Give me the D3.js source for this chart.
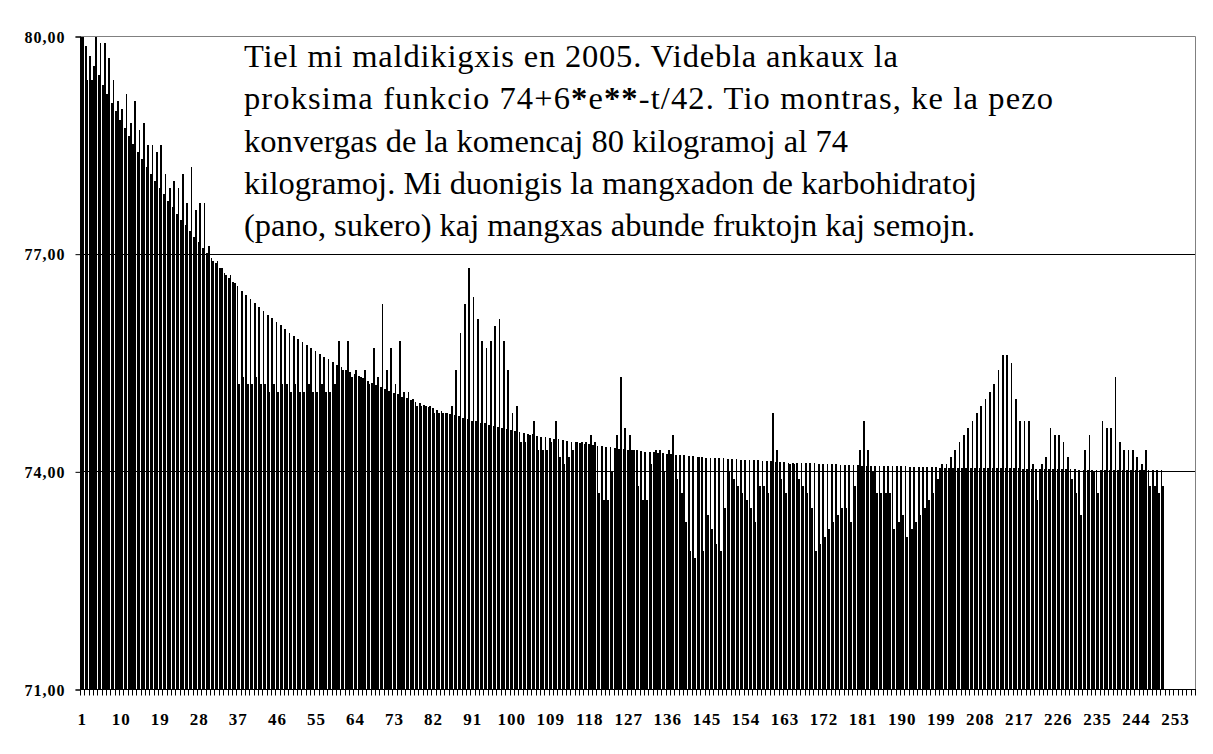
<!DOCTYPE html>
<html>
<head>
	<title>Pezo 2005</title>
	<meta charset="utf-8">
	<script type="text/javascript" src="https://cdn.jsdelivr.net/npm/d3@7"></script>
	<style type="text/css">
		html, body {
			margin: 0;
			padding: 0;
			background: #fff;
		}
		svg { display: block; }
		text {
			font-family: "Liberation Serif", "Times New Roman", serif;
			fill: #000;
		}
		.ax text {
			font-size: 17px;
			font-weight: bold;
		}
		.note { font-size: 32.5px; }
	</style>
</head>
<body>
	<div id="graph"></div>
	<script type="text/javascript">
		// 74+6*e**-t/42, one value per day (t = day-1)
		var fit = [
			80.00, 79.86, 79.72, 79.59, 79.46, 79.33, 79.20, 79.08, 78.96, 78.84,
			78.73, 78.62, 78.51, 78.40, 78.30, 78.20, 78.10, 78.00, 77.91, 77.82,
			77.73, 77.64, 77.55, 77.47, 77.39, 77.31, 77.23, 77.16, 77.08, 77.01,
			76.94, 76.87, 76.80, 76.74, 76.67, 76.61, 76.55, 76.49, 76.43, 76.37,
			76.32, 76.26, 76.21, 76.16, 76.11, 76.06, 76.01, 75.96, 75.91, 75.87,
			75.83, 75.78, 75.74, 75.70, 75.66, 75.62, 75.58, 75.55, 75.51, 75.47,
			75.44, 75.40, 75.37, 75.34, 75.31, 75.28, 75.25, 75.22, 75.19, 75.16,
			75.13, 75.11, 75.08, 75.06, 75.03, 75.01, 74.98, 74.96, 74.94, 74.92,
			74.89, 74.87, 74.85, 74.83, 74.81, 74.79, 74.77, 74.76, 74.74, 74.72,
			74.70, 74.69, 74.67, 74.66, 74.64, 74.63, 74.61, 74.60, 74.58, 74.57,
			74.56, 74.54, 74.53, 74.52, 74.51, 74.49, 74.48, 74.47, 74.46, 74.45,
			74.44, 74.43, 74.42, 74.41, 74.40, 74.39, 74.38, 74.37, 74.36, 74.35,
			74.35, 74.34, 74.33, 74.32, 74.31, 74.31, 74.30, 74.29, 74.29, 74.28,
			74.27, 74.27, 74.26, 74.25, 74.25, 74.24, 74.24, 74.23, 74.23, 74.22,
			74.21, 74.21, 74.20, 74.20, 74.19, 74.19, 74.19, 74.18, 74.18, 74.17,
			74.17, 74.17, 74.16, 74.16, 74.15, 74.15, 74.15, 74.14, 74.14, 74.14,
			74.13, 74.13, 74.13, 74.12, 74.12, 74.12, 74.12, 74.11, 74.11, 74.11,
			74.10, 74.10, 74.10, 74.10, 74.10, 74.09, 74.09, 74.09, 74.09, 74.09,
			74.08, 74.08, 74.08, 74.08, 74.08, 74.07, 74.07, 74.07, 74.07, 74.07,
			74.07, 74.06, 74.06, 74.06, 74.06, 74.06, 74.06, 74.06, 74.05, 74.05,
			74.05, 74.05, 74.05, 74.05, 74.05, 74.05, 74.04, 74.04, 74.04, 74.04,
			74.04, 74.04, 74.04, 74.04, 74.04, 74.04, 74.04, 74.03, 74.03, 74.03,
			74.03, 74.03, 74.03, 74.03, 74.03, 74.03, 74.03, 74.03, 74.03, 74.03,
			74.02, 74.02, 74.02, 74.02, 74.02, 74.02, 74.02, 74.02, 74.02, 74.02,
			74.02, 74.02, 74.02, 74.02, 74.02, 74.02, 74.02, 74.02, 74.02, 74.02
		];
		// measured weight, kg
		var weight = [
			80.0, 79.4, 79.4, 80.0, 79.9, 79.9, 79.7, 79.4, 79.1, 79.0,
			79.2, 78.8, 79.1, 78.7, 78.8, 78.5, 78.5, 78.4, 78.5, 78.1,
			77.9, 78.0, 77.9, 78.1, 77.7, 78.2, 77.6, 77.7, 77.7, 77.1,
			76.9, 76.9, 76.8, 76.7, 76.7, 76.6, 75.2, 75.3, 75.2, 75.2,
			75.3, 75.2, 75.2, 75.1, 75.2, 75.1, 75.2, 75.2, 75.1, 75.2,
			75.1, 75.1, 75.2, 75.1, 75.1, 75.2, 75.1, 75.1, 75.2, 75.8,
			75.4, 75.8, 75.3, 75.4, 75.3, 75.4, 75.2, 75.7, 75.3, 76.3,
			75.4, 75.7, 75.2, 75.8, 75.1, 75.1, 75.0, 74.9, 74.9, 74.9,
			74.9, 74.8, 74.8, 74.8, 74.8, 74.9, 75.4, 75.9, 76.3, 76.8,
			76.4, 76.1, 75.8, 75.7, 75.8, 76.0, 76.1, 75.8, 75.4, 74.8,
			74.9, 74.4, 74.4, 74.5, 74.7, 74.3, 74.3, 74.3, 74.4, 74.7,
			74.2, 74.1, 74.2, 74.3, 74.4, 74.4, 74.4, 74.5, 74.4, 73.7,
			73.6, 73.6, 74.0, 74.5, 75.3, 74.6, 74.5, 74.3, 73.8, 73.6,
			73.6, 74.1, 74.3, 74.3, 74.0, 74.3, 74.5, 73.9, 73.7, 73.3,
			72.9, 72.8, 74.2, 72.9, 73.4, 73.2, 73.0, 72.9, 73.5, 74.0,
			73.9, 73.8, 73.7, 73.6, 73.5, 73.3, 73.8, 73.8, 73.7, 74.8,
			74.3, 73.9, 73.7, 74.1, 74.1, 73.9, 73.8, 73.7, 73.5, 72.9,
			73.0, 73.1, 73.2, 73.3, 73.4, 73.5, 73.5, 73.3, 73.8, 74.3,
			74.7, 74.3, 74.0, 73.7, 73.7, 73.7, 73.7, 73.2, 73.3, 73.4,
			73.1, 73.2, 73.3, 73.4, 73.5, 73.6, 73.7, 73.9, 74.1, 74.1,
			74.2, 74.3, 74.4, 74.5, 74.6, 74.7, 74.8, 74.9, 75.0, 75.1,
			75.2, 75.4, 75.6, 75.6, 75.5, 75.0, 74.7, 74.7, 74.7, 74.1,
			73.6, 74.1, 74.2, 74.6, 74.5, 74.5, 74.4, 74.2, 73.9, 73.7,
			73.4, 74.3, 74.5, 74.0, 73.7, 74.7, 74.6, 74.6, 75.3, 74.4,
			74.3, 74.3, 74.3, 74.2, 74.1, 74.3, 73.8, 73.8, 73.7, 73.8
		];
		var nDays = 257;
		var xLabels = [1, 10, 19, 28, 37, 46, 55, 64, 73, 82, 91, 100, 109, 118, 127,
			136, 145, 154, 163, 172, 181, 190, 199, 208, 217, 226, 235, 244, 253];
		var yTicks = [71, 74, 77, 80];
		var yGrid = [74, 77];
		var note = [
			"Tiel mi maldikigxis en 2005. Videbla ankaux la",
			"proksima funkcio 74+6*e**-t/42. Tio montras, ke la pezo",
			"konvergas de la komencaj 80 kilogramoj al 74",
			"kilogramoj. Mi duonigis la mangxadon de karbohidratoj",
			"(pano, sukero) kaj mangxas abunde fruktojn kaj semojn."
		];
		// line lengths of the note in the original, px
		var noteWidth = [654, 809, 604, 733, 731];

		var W = 1213, H = 754,
			pLeft = 80, pRight = 1195, pTop = 36, pBottom = 689;

		var days = d3.range(1, nDays + 1);
		var x0 = d3.scaleBand().domain(days).range([pLeft, pRight])
			.paddingInner(0.2).paddingOuter(0.1);
		var x1 = d3.scaleBand().domain(['fit', 'weight']).range([0, x0.bandwidth()]);
		var y = d3.scaleLinear().domain([71, 80]).range([pBottom, pTop]);

		var vis = d3.select('#graph').append('svg')
			.attr('width', W).attr('height', H);
		vis.append('rect').attr('width', W).attr('height', H).attr('fill', '#fff');

		// grid
		vis.append('g').selectAll('line')
			.data(yGrid).enter().append('line')
			.attr('x1', pLeft).attr('x2', pRight)
			.attr('y1', function(d) { return Math.round(y(d)) + 0.5; })
			.attr('y2', function(d) { return Math.round(y(d)) + 0.5; })
			.attr('stroke', '#000');

		// bars
		var bars = [];
		fit.forEach(function(v, i) { bars.push({day: i + 1, k: 'fit', v: v}); });
		weight.forEach(function(v, i) { bars.push({day: i + 1, k: 'weight', v: v}); });

		vis.append('g').attr('shape-rendering', 'crispEdges')
			.selectAll('rect').data(bars).enter().append('rect')
			.attr('x', function(d) { return x0(d.day) + x1(d.k); })
			.attr('width', x1.bandwidth())
			.attr('y', function(d) { return y(d.v); })
			.attr('height', function(d) { return y(71) - y(d.v); })
			.attr('fill', '#000');

		// plot border (top, right)
		vis.append('path')
			.attr('d', 'M' + pLeft + ',' + (pTop + 0.5) + 'H' + (pRight + 0.5) + 'V' + pBottom)
			.attr('fill', 'none').attr('stroke', '#808080');

		// y axis
		var yAxis = d3.axisLeft(y).tickValues(yTicks).tickSize(5).tickPadding(10)
			.tickFormat(function(d) { return d3.format('.2f')(d).replace('.', ','); });
		var gy = vis.append('g').attr('class', 'ax')
			.attr('transform', 'translate(' + (pLeft + 0.5) + ',0.5)')
			.call(yAxis);
		gy.selectAll('text').style('font-size', '16px').style('letter-spacing', '1px')
			.attr('dy', '0.35em');
		gy.selectAll('line, path').attr('stroke', '#000');

		// x axis: line, ticks between categories, labels every 9th day
		var step = x0.step();
		var gx = vis.append('g').attr('class', 'ax')
			.attr('transform', 'translate(0,' + (pBottom + 0.5) + ')');
		gx.append('line').attr('x1', pLeft).attr('x2', pRight + 1).attr('stroke', '#000');
		gx.selectAll('line.t').data(d3.range(nDays + 1)).enter().append('line')
			.attr('class', 't')
			.attr('x1', function(i) { return Math.round(pLeft + i * step) + 0.5; })
			.attr('x2', function(i) { return Math.round(pLeft + i * step) + 0.5; })
			.attr('y1', 0).attr('y2', 6)
			.attr('stroke', '#000');
		gx.selectAll('text').data(xLabels).enter().append('text')
			.attr('x', function(d) { return x0(d) + x0.bandwidth() / 2; })
			.attr('y', 35)
			.attr('text-anchor', 'middle')
			.style('letter-spacing', '1px')
			.text(function(d) { return d; });

		// note
		var nt = vis.append('g').attr('class', 'note');
		note.forEach(function(s, i) {
			var t = nt.append('text').attr('x', 244).attr('y', 67 + i * 42.3)
				.attr('textLength', noteWidth[i]).attr('lengthAdjust', 'spacing');
			// asterisks look bold in the original
			s.split(/(\*+)/).forEach(function(part) {
				if (!part) return;
				var ts = t.append('tspan').text(part);
				if (part[0] === '*') ts.attr('font-weight', 'bold');
			});
		});
	</script>
</body>
</html>
